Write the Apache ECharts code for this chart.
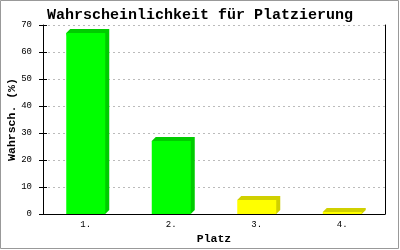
<!DOCTYPE html>
<html>
<head>
<meta charset="utf-8">
<script src="https://cdn.jsdelivr.net/npm/echarts@6/dist/echarts.min.js"></script>
<style>html,body{margin:0;padding:0;background:#fff}#c{width:400px;height:250px}</style>
</head>
<body>
<div id="c"></div>
<script>
const titleText = 'Wahrscheinlichkeit für Platzierung';
const xName = 'Platz';
const yName = 'Wahrsch. (%)';
const categories = ['1.', '2.', '3.', '4.'];
const values = [67, 27, 5.2, 0.7];
const yTicks = [0, 10, 20, 30, 40, 50, 60, 70];

const frontColors = ['#00ff00', '#00ff00', '#ffff00', '#ffff00'];
const shadeColors = ['#00cc00', '#00cc00', '#d0d000', '#d0d000'];
const FONT = '"Liberation Mono", "DejaVu Sans Mono", monospace';

const chart = echarts.init(document.getElementById('c'), null, {renderer: 'canvas'});
const yMin = yTicks[0], yMax = yTicks[yTicks.length - 1], yInt = yTicks[1] - yTicks[0];

chart.setOption({
  animation: false,
  backgroundColor: '#fff',
  title: {
    text: titleText, left: 'center', top: 3,
    textStyle: {fontFamily: FONT, fontWeight: 'bold', fontSize: 15, color: '#000'}
  },
  graphic: [{
    type: 'rect', silent: true, z: 100,
    shape: {x: 0.5, y: 0.5, width: 398, height: 248},
    style: {fill: 'none', stroke: '#999', lineWidth: 1}
  }],
  grid: {left: 43, right: 15, top: 25, bottom: 36, containLabel: false, outerBoundsMode: 'none'},
  xAxis: {
    type: 'category', data: categories,
    name: xName, nameLocation: 'middle', nameGap: 19, nameMoveOverlap: false,
    nameTextStyle: {fontFamily: FONT, fontWeight: 'bold', fontSize: 11.5, color: '#000'},
    axisLine: {lineStyle: {color: '#000'}},
    axisTick: {show: false},
    axisLabel: {fontFamily: FONT, fontSize: 9, color: '#000', margin: 6}
  },
  yAxis: [{
    type: 'value', min: yMin, max: yMax, interval: yInt,
    name: yName, nameLocation: 'middle', nameGap: 25, nameMoveOverlap: false,
    nameTextStyle: {fontFamily: FONT, fontWeight: 'bold', fontSize: 11.5, color: '#000'},
    axisLine: {show: true, lineStyle: {color: '#000'}},
    axisTick: {show: true, length: 4, lineStyle: {color: '#000'}},
    axisLabel: {fontFamily: FONT, fontSize: 9, color: '#000', margin: 11},
    splitLine: {show: true, lineStyle: {color: '#bbb', type: [2, 3]}}
  }, {
    type: 'value', min: yMin, max: yMax, interval: yInt, position: 'left',
    axisLine: {show: false},
    axisTick: {show: true, inside: true, length: 4, lineStyle: {color: '#000'}},
    axisLabel: {show: false}, splitLine: {show: false}
  }, {
    type: 'value', min: yMin, max: yMax, interval: yInt, position: 'right',
    axisLine: {show: true, lineStyle: {color: '#000'}},
    axisTick: {show: false}, axisLabel: {show: false}, splitLine: {show: false}
  }],
  series: [{
    type: 'custom',
    data: values.map((v, i) => [i, v]),
    renderItem: function (params, api) {
      const i = api.value(0);
      const top = api.coord([i, api.value(1)]);
      const base = api.coord([i, 0]);
      const w = api.size([1, 0])[0] * 0.456;
      const x0 = top[0] - w / 2, x1 = top[0] + w / 2;
      const yt = top[1], yb = base[1];
      const d = 4;
      return {
        type: 'group',
        children: [{
          type: 'polygon',
          shape: {points: [[x0, yt], [x0 + d, yt - d], [x1 + d, yt - d], [x1 + d, yb - d], [x1, yb]]},
          style: {fill: shadeColors[i]}
        }, {
          type: 'rect',
          shape: {x: x0, y: yt, width: w, height: yb - yt},
          style: {fill: frontColors[i]}
        }]
      };
    }
  }]
});
</script>
</body>
</html>
